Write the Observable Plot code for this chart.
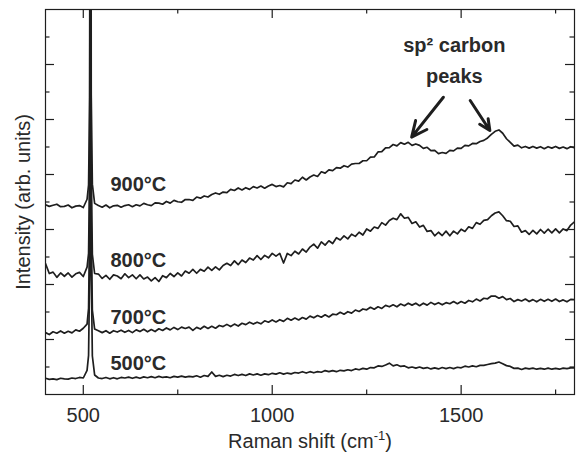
<!DOCTYPE html>
<html><head><meta charset="utf-8">
<script src="https://cdn.jsdelivr.net/npm/d3@7"></script>
<script src="https://cdn.jsdelivr.net/npm/@observablehq/plot@0.6"></script>
<style>html,body{margin:0;padding:0;background:#fff;}</style>
</head><body>
<div id="chart"></div>
<script>
// Raman shift (cm-1)
const shift = [400,410,420,430,440,450,460,470,480,490,500,510,514,517,519,521,524,
530,540,550,560,570,580,590,600,610,620,
630,640,650,660,670,680,690,700,710,720,
730,740,750,760,770,780,790,800,810,820,
830,840,850,860,870,880,890,900,910,920,
930,940,950,960,970,980,990,1000,1010,1020,
1030,1040,1050,1060,1070,1080,1090,1100,1110,1120,
1130,1140,1150,1160,1170,1180,1190,1200,1210,1220,
1230,1240,1250,1260,1270,1280,1290,1300,1310,1320,
1330,1340,1350,1360,1370,1380,1390,1400,1410,1420,
1430,1440,1450,1460,1470,1480,1490,1500,1510,1520,
1530,1540,1550,1560,1570,1580,1590,1600,1610,1620,
1630,1640,1650,1660,1670,1680,1690,1700,1710,1720,
1730,1740,1750,1760,1770,1780,1790,1800];

const s900 = [6.90,6.84,6.88,6.92,6.83,6.84,6.89,6.79,6.85,6.87,6.80,7.10,
7.62,10.8,46.8,10.9,7.65,
6.95,6.87,6.81,6.89,6.79,6.86,6.88,6.81,6.87,6.90,
6.83,6.90,6.86,6.95,6.90,6.87,6.97,6.96,6.92,7.02,
6.96,7.06,7.01,6.99,7.09,7.09,7.06,7.18,7.14,7.22,
7.18,7.27,7.33,7.28,7.36,7.34,7.46,7.42,7.51,7.44,
7.52,7.46,7.56,7.51,7.58,7.50,7.58,7.64,7.56,7.60,
7.55,7.70,7.67,7.80,7.76,7.90,7.80,7.91,7.98,7.93,
8.10,8.05,8.17,8.14,8.25,8.23,8.32,8.27,8.38,8.40,
8.40,8.50,8.50,8.63,8.64,8.82,8.83,8.97,8.98,9.09,
9.04,9.16,9.10,9.17,9.06,9.11,9.06,8.95,8.99,8.87,
8.88,8.76,8.80,8.77,8.88,8.86,8.96,8.95,9.06,9.04,
9.13,9.12,9.20,9.24,9.33,9.46,9.57,9.62,9.50,9.30,
9.17,9.03,9.07,8.97,9.02,8.96,9.02,8.96,9.01,8.94,
9.01,8.96,9.02,8.95,9.00,8.94,9.01,8.97];

const s800 = [4.76,4.40,4.45,4.26,4.42,4.30,4.42,4.27,4.39,4.44,4.29,4.63,
5.13,8.3,44.3,8.4,5.10,
4.40,4.38,4.22,4.33,4.19,4.35,4.31,4.21,4.39,4.25,
4.35,4.21,4.35,4.20,4.27,4.13,4.25,4.11,4.32,4.25,
4.40,4.29,4.42,4.31,4.49,4.41,4.55,4.41,4.55,4.48,
4.63,4.51,4.64,4.53,4.69,4.77,4.69,4.86,4.72,4.89,
4.80,4.96,4.89,5.05,4.91,5.06,4.97,5.13,5.03,5.13,
4.78,5.13,5.05,5.21,5.11,5.29,5.18,5.36,5.47,5.32,
5.55,5.43,5.59,5.49,5.70,5.62,5.77,5.66,5.83,5.75,
5.90,5.80,6.02,5.94,6.09,6.04,6.25,6.16,6.33,6.41,
6.36,6.57,6.41,6.44,6.22,6.28,6.09,6.15,5.93,5.96,
5.77,5.90,5.78,5.94,5.77,5.94,5.84,6.01,5.93,6.10,
6.04,6.25,6.19,6.33,6.36,6.50,6.60,6.64,6.50,6.32,
6.30,6.11,6.13,5.90,5.96,5.82,5.97,5.84,6.00,5.87,
6.01,5.88,6.02,5.88,6.02,5.96,6.16,6.28];

const s700 = [2.25,2.18,2.28,2.23,2.31,2.23,2.30,2.24,2.35,2.30,2.41,2.56,
3.13,6.3,42.3,6.3,3.07,
2.38,2.32,2.25,2.32,2.23,2.32,2.27,2.34,2.26,2.33,
2.25,2.35,2.29,2.37,2.28,2.36,2.29,2.39,2.33,2.42,
2.35,2.44,2.36,2.45,2.40,2.45,2.33,2.44,2.38,2.48,
2.40,2.48,2.41,2.51,2.47,2.55,2.47,2.56,2.49,2.59,
2.54,2.63,2.56,2.63,2.57,2.68,2.63,2.71,2.64,2.72,
2.66,2.77,2.70,2.78,2.71,2.80,2.74,2.85,2.79,2.87,
2.81,2.90,2.82,2.92,2.90,2.99,2.92,3.01,2.96,3.07,
3.02,3.11,3.08,3.17,3.10,3.19,3.13,3.24,3.19,3.26,
3.19,3.29,3.23,3.32,3.25,3.32,3.23,3.32,3.25,3.35,
3.27,3.34,3.26,3.34,3.30,3.38,3.30,3.38,3.32,3.42,
3.37,3.47,3.40,3.50,3.48,3.58,3.58,3.50,3.56,3.45,
3.49,3.38,3.45,3.40,3.47,3.38,3.45,3.37,3.46,3.39,
3.46,3.39,3.47,3.38,3.44,3.37,3.46,3.45];

const s500 = [0.59,0.55,0.57,0.54,0.59,0.57,0.56,0.60,0.58,0.62,0.60,0.88,
1.42,4.6,40.6,4.6,1.40,
0.71,0.60,0.58,0.62,0.57,0.61,0.57,0.62,0.60,0.63,
0.59,0.63,0.59,0.64,0.61,0.65,0.61,0.66,0.62,0.64,
0.61,0.66,0.63,0.67,0.63,0.66,0.64,0.68,0.63,0.69,
0.66,0.82,0.66,0.70,0.65,0.70,0.67,0.73,0.69,0.73,
0.69,0.75,0.71,0.75,0.70,0.75,0.72,0.77,0.74,0.79,
0.74,0.78,0.75,0.80,0.78,0.83,0.78,0.83,0.79,0.83,
0.81,0.87,0.83,0.87,0.83,0.88,0.86,0.90,0.87,0.93,
0.90,0.95,0.92,0.98,0.97,1.04,1.02,1.07,1.14,1.04,
1.08,1.02,1.04,0.97,1.00,0.96,1.00,0.95,0.98,0.93,
0.97,0.93,0.98,0.94,0.98,0.94,0.99,0.97,1.03,1.00,
1.04,1.01,1.06,1.06,1.09,1.12,1.14,1.18,1.12,1.05,
1.02,0.95,0.96,0.91,0.96,0.93,0.96,0.92,0.95,0.92,
0.96,0.92,0.95,0.92,0.96,0.94,0.97,0.97];

const seriesNames = ["500°C", "700°C", "800°C", "900°C"];
const seriesValues = [s500, s700, s800, s900];
const labelX = [572, 572, 572, 572];
const labelY = [1.11, 2.78, 4.86, 7.65];

const xTickLabels = [500, 1000, 1500];
const xMajor = [500, 1000, 1500];
const xMinor = [750, 1250, 1750];
const yMajor = [2, 4, 6, 8, 10, 12];
const yMinor = [1, 3, 5, 7, 9, 11, 13];

const annText = ["sp\u00B2 carbon", "peaks"];
const annX = [1482, 1482];
const annY = [12.67, 11.55];
const arrowX1 = [1453, 1524];
const arrowY1 = [10.81, 10.69];
const arrowX2 = [1369, 1576];
const arrowY2 = [9.36, 9.60];

const xLabel = "Raman shift (cm-1)";
const yLabel = "Intensity (arb. units)";

// long table
const table = [];
seriesNames.forEach((name, k) => {
  shift.forEach((x, i) => table.push({series: name, x, y: seriesValues[k][i]}));
});

const W = 578, H = 454;
const mL = 45, mR = 4, mT = 9, mB = 60;
const fw = W - mL - mR, fh = H - mT - mB;
const majorLen = 9, minorLen = 4.5;
const ink = "#1e1e1e";
const textInk = "#2a2a2a";

const plot = Plot.plot({
  width: W, height: H,
  marginLeft: mL, marginRight: mR, marginTop: mT, marginBottom: mB,
  x: {domain: [400, 1800], axis: null},
  y: {domain: [0, 14], axis: null},
  style: {fontFamily: "'Liberation Sans', Arial, Helvetica, sans-serif", fontSize: "20px", background: "#fff", color: textInk},
  marks: [
    Plot.line(table, {x: "x", y: "y", z: "series", stroke: ink, strokeWidth: 1.7, clip: true}),
    Plot.frame({stroke: ink, strokeWidth: 1.2}),
    // x ticks bottom/top
    Plot.tickX(xMajor, {x: d => d, insetTop: fh - majorLen, stroke: ink, strokeWidth: 1.2}),
    Plot.tickX(xMajor, {x: d => d, insetBottom: fh - majorLen, stroke: ink, strokeWidth: 1.2}),
    Plot.tickX(xMinor, {x: d => d, insetTop: fh - minorLen, stroke: ink, strokeWidth: 1.2}),
    Plot.tickX(xMinor, {x: d => d, insetBottom: fh - minorLen, stroke: ink, strokeWidth: 1.2}),
    // y ticks left/right
    Plot.tickY(yMajor, {y: d => d, insetRight: fw - majorLen, stroke: ink, strokeWidth: 1.2}),
    Plot.tickY(yMajor, {y: d => d, insetLeft: fw - majorLen, stroke: ink, strokeWidth: 1.2}),
    Plot.tickY(yMinor, {y: d => d, insetRight: fw - minorLen, stroke: ink, strokeWidth: 1.2}),
    Plot.tickY(yMinor, {y: d => d, insetLeft: fw - minorLen, stroke: ink, strokeWidth: 1.2}),
    // tick labels
    Plot.text(xTickLabels, {x: d => d, frameAnchor: "bottom", dy: 21, lineAnchor: "middle", textAnchor: "middle", text: d => String(d), fill: textInk}),
    // axis labels
    Plot.text([xLabel], {frameAnchor: "bottom", dy: 47, lineAnchor: "middle", textAnchor: "middle", text: d => d, fill: textInk}),
    Plot.text([yLabel], {frameAnchor: "left", dx: -22, rotate: -90, lineAnchor: "middle", textAnchor: "middle", text: d => d, fill: textInk}),
    // series labels
    Plot.text(seriesNames, {x: (d, i) => labelX[i], y: (d, i) => labelY[i], text: d => d, textAnchor: "start", lineAnchor: "middle", fontWeight: "bold", fill: textInk}),
    // annotation
    Plot.text(annText, {x: (d, i) => annX[i], y: (d, i) => annY[i], text: d => d, textAnchor: "middle", lineAnchor: "middle", fontWeight: "bold", fill: textInk}),
    Plot.arrow(arrowX1, {x1: (d, i) => arrowX1[i], y1: (d, i) => arrowY1[i], x2: (d, i) => arrowX2[i], y2: (d, i) => arrowY2[i], stroke: ink, strokeWidth: 3, headLength: 12, headAngle: 50})
  ]
});

// superscript for the x label
plot.querySelectorAll("text").forEach(t => {
  if (t.textContent === xLabel) {
    const ns = "http://www.w3.org/2000/svg";
    while (t.firstChild) t.removeChild(t.firstChild);
    const a = document.createElementNS(ns, "tspan"); a.textContent = "Raman shift (cm";
    const b = document.createElementNS(ns, "tspan"); b.textContent = "-1"; b.setAttribute("dy", "-8"); b.setAttribute("font-size", "13");
    const c = document.createElementNS(ns, "tspan"); c.textContent = ")"; c.setAttribute("dy", "8");
    t.appendChild(a); t.appendChild(b); t.appendChild(c);
  }
});
document.getElementById("chart").appendChild(plot);
</script>
</body></html>
